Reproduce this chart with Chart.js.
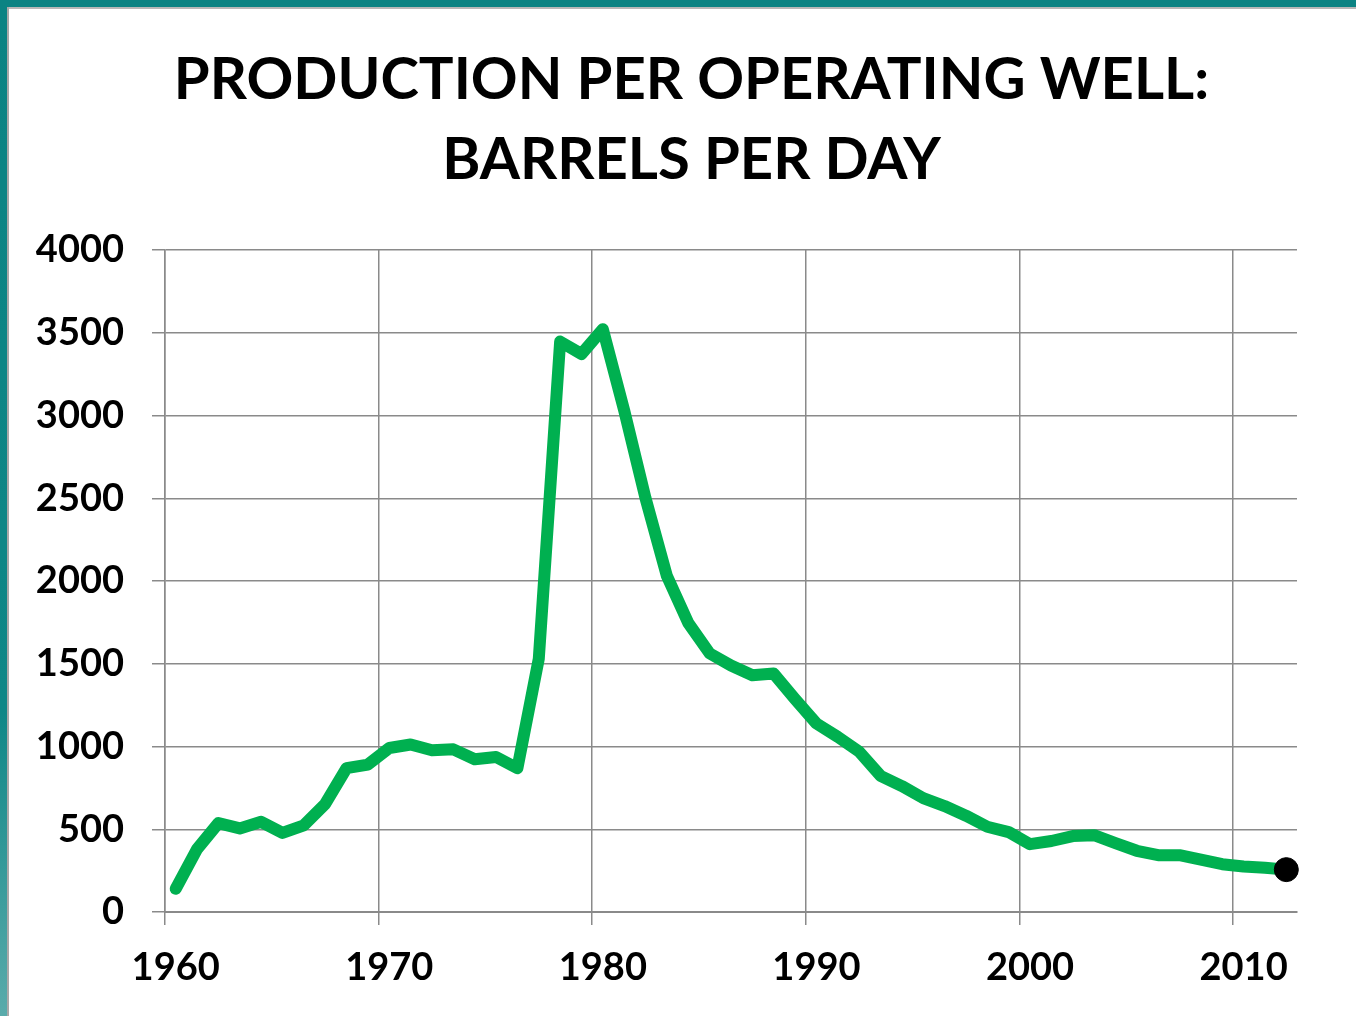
<!DOCTYPE html>
<html>
<head>
<meta charset="utf-8">
<script src="https://cdn.jsdelivr.net/npm/chart.js@4/dist/chart.umd.min.js"></script>
<style>
  html, body { margin: 0; padding: 0; background: #fff; }
  body { width: 1356px; height: 1016px; position: relative; overflow: hidden; }
  #topBar { position: absolute; left: 0; top: 0; width: 1356px; height: 7px; background: #0b8383; }
  #topLine { position: absolute; left: 7px; top: 7px; width: 1349px; height: 2px; background: #b8b8b8; }
  #leftBar { position: absolute; left: 0; top: 0; width: 7px; height: 1016px;
             background: linear-gradient(#0b8383, #0f8787 70%, #5aabab); }
  #leftLine { position: absolute; left: 7px; top: 7px; width: 2px; height: 1009px; background: #a8a8a8; }
  #wrap { position: absolute; left: 0; top: 0; width: 1356px; height: 1016px; }
</style>
</head>
<body>
<div id="topBar"></div>
<div id="leftBar"></div>
<div id="topLine"></div>
<div id="leftLine"></div>
<div id="wrap"><canvas id="wellChart" width="1356" height="1016"></canvas></div>
<script>
// barrels per day per operating well, one value per year
const years = [];
for (let y = 1960; y <= 2012; y++) years.push(y);

const barrelsPerDay = [
  140, 380, 537, 505, 545, 478, 524, 653, 869, 891,        // 1960s
  991, 1012, 977, 983, 923, 937, 869, 1530, 3447, 3372,    // 1970s
  3522, 3030, 2500, 2030, 1746, 1563, 1490, 1431, 1441, 1287, // 1980s
  1139, 1058, 969, 823, 761, 688, 640, 582, 515, 483,      // 1990s
  410, 429, 459, 464, 416, 370, 343, 343, 316, 289,        // 2000s
  275, 267, 256                                            // 2010-2012
];

const titleLines = ['PRODUCTION PER OPERATING WELL:', 'BARRELS PER DAY'];
const gridGray = '#8a8a8a';
const lastIdx = barrelsPerDay.length - 1;

// the slide title sits a bit right of the canvas centre
const titleShift = {
  id: 'titleShift',
  afterLayout(chart) {
    if (chart.titleBlock) {
      chart.titleBlock.left = 86;
      chart.titleBlock.right = 1297;
    }
  }
};

const ctx = document.getElementById('wellChart').getContext('2d');
new Chart(ctx, {
  type: 'line',
  data: {
    labels: years,
    datasets: [{
      data: barrelsPerDay,
      borderColor: '#00b050',
      borderWidth: 12,
      borderJoinStyle: 'round',
      borderCapStyle: 'round',
      tension: 0,
      fill: false,
      clip: false,
      pointRadius: c => c.dataIndex === lastIdx ? 12 : 0,
      pointHoverRadius: c => c.dataIndex === lastIdx ? 12 : 0,
      pointBackgroundColor: '#000',
      pointBorderColor: '#000',
      pointBorderWidth: 1
    }]
  },
  plugins: [titleShift],
  options: {
    responsive: false,
    animation: false,
    layout: { padding: { left: 0, right: 59, top: 0, bottom: 0 } },
    plugins: {
      legend: { display: false },
      tooltip: { enabled: false },
      title: {
        display: true,
        text: titleLines,
        color: '#000',
        font: { family: 'Lato', weight: 'bold', size: 58, lineHeight: 1.38 },
        padding: { top: 40, bottom: 50 }
      }
    },
    scales: {
      x: {
        type: 'category',
        offset: true,
        grid: {
          offset: true,
          color: c => (c.index % 10 === 0 ? gridGray : 'rgba(0,0,0,0)'),
          lineWidth: 1.5,
          tickLength: 13
        },
        border: { color: gridGray, width: 2 },
        ticks: {
          autoSkip: false,
          maxRotation: 0,
          minRotation: 0,
          padding: 20,
          color: '#000',
          font: { family: 'Lato', weight: 'bold', size: 38 },
          callback: (v, i) => (years[i] % 10 === 0 ? String(years[i]) : '')
        },
        afterFit: s => { s.height = 104; }
      },
      y: {
        min: 0,
        max: 4000,
        grid: { color: gridGray, lineWidth: 1.5, tickLength: 13 },
        border: { color: gridGray, width: 1.5 },
        ticks: {
          stepSize: 500,
          padding: 28,
          color: '#000',
          font: { family: 'Lato', weight: 'bold', size: 38 },
          callback: v => String(v)
        },
        afterFit: s => { s.width = 165; }
      }
    }
  }
});
</script>
</body>
</html>
